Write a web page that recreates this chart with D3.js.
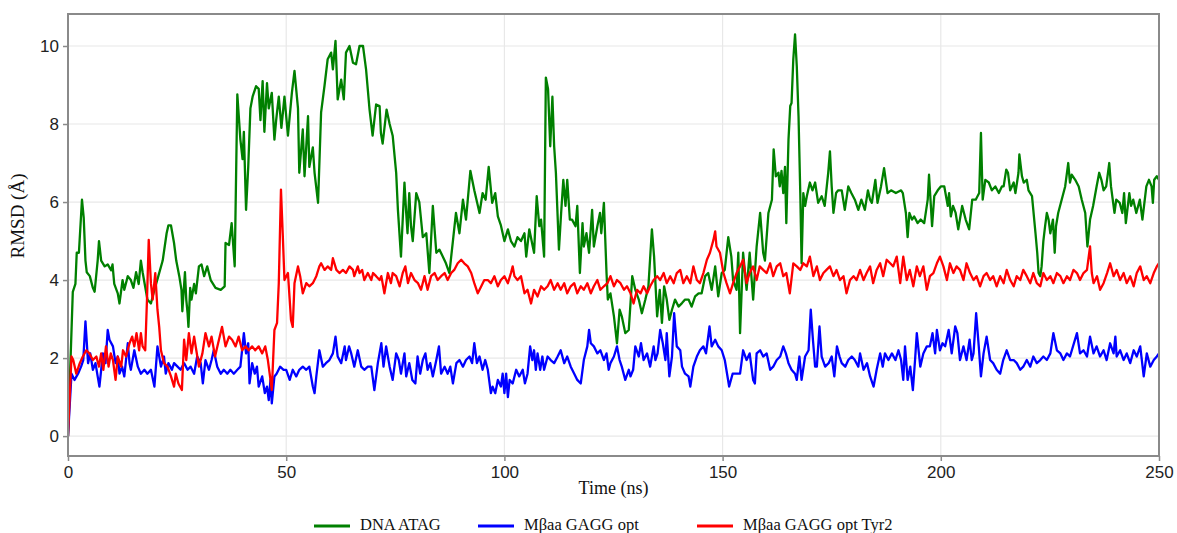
<!DOCTYPE html>
<html>
<head>
<meta charset="utf-8">
<script src="https://cdn.jsdelivr.net/npm/d3@7"></script>
<style>
  html, body { margin: 0; padding: 0; background: #fff; }
  svg { display: block; }
  .tick-label { font-family: "Liberation Sans", Arial, sans-serif; font-size: 17px; fill: #222; }
  .axis-title { font-family: "Liberation Serif", "Times New Roman", serif; font-size: 18px; fill: #111; }
  .legend-text { font-family: "Liberation Serif", "Times New Roman", serif; font-size: 16.5px; fill: #111; }
</style>
</head>
<body>
<svg id="chart" width="1177" height="533"></svg>
<script>
// RMSD trajectories (time in ns, RMSD in Å)
const dnaTime = [0,1.1,1.7,2.0,2.5,3.2,3.6,4.0,4.3,5.0,5.7,6.1,6.8,7.1,7.6,8.4,9.1,9.9,10.2,10.6,11.4,11.8,12.5,12.9,13.7,14.4,15.0,15.6,16.2,16.7,17.1,18.2,19.0,19.8,20.7,21.7,22.6,23.0,23.6,24.3,24.8,25.5,26.0,26.2,26.8,27.1,27.4,27.6,28.0,28.3,28.9,29.3,30.0,30.6,31.2,31.9,32.7,33.8,35.0,35.9,36.1,36.9,37.5,38.2,38.8,39.5,40.0,40.3,40.8,41.3,41.8,42.3,43.1,43.7,44.1,44.6,45.0,45.6,46.0,46.7,47.3,47.7,48.3,48.9,49.6,50.4,51.3,51.9,52.7,53.0,53.8,54.2,55.0,55.3,56.1,56.5,57.3,58.0,58.8,59.5,60.3,60.7,61.3,61.8,62.6,63.2,63.7,64.5,65.3,66.0,66.8,67.6,68.3,69.1,69.8,70.6,71.4,71.7,72.1,73.0,73.7,74.4,75.2,75.6,76.3,77.1,77.5,77.8,78.2,78.6,79.0,79.8,80.5,81.3,82.1,82.8,83.6,84.4,85.1,85.9,86.6,87.4,88.2,88.9,89.7,90.5,91.2,92.2,93.1,94.3,95.0,95.7,96.4,97.2,97.9,98.5,99.2,100.0,100.8,101.5,102.3,103.0,103.8,104.6,105.0,105.7,106.5,106.8,107.4,108.0,108.4,109.1,109.5,110.0,110.5,111.0,111.4,111.8,112.5,113.0,113.5,114.0,114.4,115.0,115.5,116.3,116.7,117.3,117.9,118.2,118.8,119.4,120.1,120.5,121.3,121.9,122.2,122.8,123.4,123.7,124.3,125.1,125.8,126.4,126.9,127.7,128.5,129.3,130.0,130.8,131.5,132.3,133.0,133.8,134.3,135.0,135.6,136.1,136.6,137.2,137.8,138.4,139.1,139.9,140.7,141.4,142.2,142.9,143.7,144.5,145.2,146.0,146.7,147.5,148.3,149.0,149.8,150.5,151.3,152.0,152.4,153.2,153.6,154.0,154.7,155.5,156.2,157.0,157.4,157.8,158.6,159.3,159.7,160.5,161.3,161.7,162.2,162.8,163.1,163.5,163.9,164.3,164.6,165.1,165.5,165.8,166.2,166.6,167.0,167.4,167.8,168.1,168.5,168.9,169.3,170.0,170.6,171.2,171.9,172.7,173.4,174.2,174.6,175.0,175.4,176.0,176.5,177.3,178.0,178.8,179.5,180.3,181.1,181.8,182.6,183.3,183.8,184.2,185.0,185.5,186.3,187.0,187.8,188.6,189.7,190.9,191.3,192.0,192.4,192.8,193.4,193.9,194.7,195.4,196.2,197.0,197.3,198.0,198.5,199.3,200.0,200.8,201.6,201.9,202.3,202.8,203.4,204.0,204.9,205.7,206.5,207.2,208.0,208.8,209.2,209.6,210.2,211.0,211.7,212.5,213.3,214.0,214.4,215.0,215.4,215.9,216.7,217.1,217.8,218.0,218.6,219.0,219.7,220.1,220.9,221.7,222.1,222.4,222.8,223.1,223.5,223.9,224.3,224.7,225.1,225.7,226.1,226.4,226.9,227.7,228.5,229.2,229.6,230.0,230.8,231.6,232.3,233.1,233.6,234.2,234.9,235.7,236.3,236.8,237.3,237.9,238.6,239.0,239.4,239.8,240.2,241.0,241.6,242.0,242.4,243.2,243.6,244.1,244.8,245.6,246.2,247.1,247.7,248.3,248.6,248.9,249.5,250];
const dnaRmsd = [0,3.7,3.9,4.7,4.7,6.06,5.6,4.5,4.2,4.1,3.8,3.7,4.5,5.0,4.5,4.35,4.4,4.25,4.4,3.9,3.66,3.4,4.0,3.75,4.1,4.0,3.8,4.2,3.9,4.5,4.2,3.5,3.4,3.75,4.1,4.5,5.2,5.4,5.4,4.95,4.5,4.1,3.75,3.2,4.2,3.5,3.15,2.8,3.8,3.5,3.9,3.66,4.35,4.4,4.1,4.35,4.0,3.8,3.75,3.84,4.95,4.9,5.46,4.35,8.76,7.6,7.1,7.8,5.8,6.9,8.4,8.7,8.97,8.9,8.1,9.1,7.8,9.05,8.4,8.8,7.6,8.1,8.7,7.9,8.7,7.7,8.8,9.36,8.4,6.75,7.86,6.66,8.2,6.9,7.4,6.75,5.98,8.3,9.0,9.66,9.83,9.4,10.13,8.63,9.14,8.63,9.83,10.0,9.57,9.53,10.0,10.0,9.4,8.37,7.7,8.5,8.46,7.77,7.5,8.37,8.0,7.7,6.75,5.8,4.6,6.5,5.72,5.2,6.23,5.38,5.0,6.23,6.0,5.1,5.2,4.18,5.9,4.7,4.78,4.6,4.43,4.18,5.0,5.72,5.2,6.06,5.55,6.8,6.3,5.72,6.23,6.06,6.9,5.98,6.23,5.63,5.4,5.0,5.3,5.0,4.86,5.1,5.0,5.2,4.6,5.3,4.86,4.7,6.15,5.38,5.55,4.6,9.19,8.9,7.43,8.7,7.43,6.75,4.78,5.72,6.57,5.9,6.57,5.55,5.55,5.38,5.9,4.18,5.46,4.86,5.2,4.7,5.8,4.86,5.38,5.72,5.2,5.98,4.18,3.5,3.66,3.07,2.38,3.24,3.07,2.64,2.72,4.1,3.75,3.5,3.15,3.5,3.84,5.3,4.6,3.07,3.75,2.9,3.84,3.5,2.98,3.24,3.5,3.32,3.41,3.5,3.5,3.32,3.58,3.66,3.66,4.1,4.18,3.75,4.35,3.58,4.18,4.26,5.1,4.6,4.0,3.75,4.7,2.64,4.7,3.75,4.7,3.5,4.18,4.86,5.72,4.7,4.5,5.72,6.06,7.35,6.66,6.75,6.4,6.8,6.23,6.9,5.46,7.6,8.46,8.54,9.66,10.3,9.48,8.2,6.23,4.43,6.23,5.9,6.15,6.5,6.3,6.5,5.98,6.15,5.9,6.75,7.3,6.4,5.72,6.23,6.3,6.3,5.8,6.4,6.23,6.06,5.8,6.06,5.8,6.3,6.06,5.98,6.57,5.98,6.4,6.87,6.23,6.3,6.23,6.3,6.23,5.72,5.1,5.72,5.55,5.63,5.46,5.55,5.46,6.06,6.7,5.38,6.15,6.3,6.4,6.4,5.9,6.23,5.63,5.9,5.72,5.3,5.9,5.55,5.3,6.06,6.06,6.23,7.77,6.06,6.57,6.5,6.3,6.4,6.23,6.4,6.4,6.83,6.75,6.3,6.5,6.23,6.75,7.22,6.66,6.5,6.57,6.3,6.15,5.2,4.7,4.18,4.1,4.35,5.0,5.38,5.72,5.55,5.2,5.55,4.7,5.38,5.72,6.06,6.4,7.0,6.5,6.7,6.57,6.4,6.06,5.72,4.86,5.55,5.9,6.4,6.75,6.57,6.3,6.4,7.0,6.4,6.06,5.72,6.06,5.98,5.72,6.23,5.46,6.23,5.9,6.06,5.72,6.06,5.55,6.4,6.57,6.4,5.98,6.57,6.66,6.57];

const gaggTime = [0,0.8,1.5,2.3,3.0,3.5,4.0,4.6,5.1,5.7,6.3,6.8,7.2,7.6,8.0,8.6,9.1,9.5,10.3,10.9,11.4,11.8,12.4,12.9,13.7,14.1,14.4,15.2,16.0,16.7,17.5,18.2,19.0,19.8,20.5,21.3,22.0,22.4,23.0,23.8,24.3,25.1,25.8,26.6,27.4,28.1,28.9,29.6,30.4,30.9,31.5,32.3,32.9,33.4,34.2,35.0,35.7,36.5,37.2,38.0,38.8,39.5,40.3,40.8,41.3,41.6,42.2,42.8,43.3,43.7,44.5,45.1,45.6,46.0,46.4,46.7,47.3,47.8,48.6,49.4,50.0,50.8,51.5,52.3,53.0,53.8,54.6,55.3,56.1,56.5,56.9,57.6,58.4,59.1,59.9,60.7,61.3,61.8,62.6,63.4,63.7,64.4,64.9,65.6,66.4,67.2,67.9,68.7,69.5,70.2,71.0,71.8,72.3,72.9,73.7,74.4,75.2,75.8,76.3,77.1,77.5,78.2,78.9,79.6,80.1,80.7,81.3,81.9,82.4,83.0,83.6,84.4,85.0,85.5,86.3,87.0,87.6,88.2,89.0,89.7,90.5,91.2,92.0,92.6,93.1,93.7,94.3,95.0,95.6,96.2,96.9,97.3,97.9,98.5,99.2,99.6,100.0,100.4,100.8,101.2,101.9,102.7,103.4,104.2,104.7,105.3,105.9,106.4,106.8,107.2,107.6,108.2,108.7,109.1,109.9,110.6,111.4,112.2,112.9,113.7,114.4,115.2,116.0,116.7,117.5,118.2,119.0,119.4,119.8,120.5,121.3,122.0,122.8,123.4,123.9,124.3,125.1,125.8,126.4,126.9,127.7,128.5,128.9,129.5,130.0,130.8,131.3,131.9,132.7,133.4,134.2,134.6,135.1,135.7,136.3,136.9,137.2,137.8,138.4,138.9,139.5,140.3,140.7,141.4,142.2,142.6,143.3,144.1,144.8,145.6,146.2,147.0,147.5,148.3,149.0,149.8,150.5,151.5,152.3,153.2,154.0,154.7,155.5,156.2,157.0,157.4,157.8,158.6,159.3,160.1,160.9,161.6,162.4,163.2,163.9,164.5,165.1,165.8,166.6,167.0,167.6,168.1,168.9,169.7,170.2,170.7,171.2,171.6,172.2,172.7,173.5,174.3,175.0,175.6,176.2,176.8,177.3,178.1,178.8,179.6,180.3,181.1,181.5,182.3,183.1,183.8,184.6,185.3,186.1,186.7,187.2,188.0,188.8,189.6,190.3,190.9,191.4,191.8,192.4,193.0,193.6,194.1,194.5,195.3,196.0,196.8,197.5,198.1,198.7,199.1,199.8,200.4,201.0,201.8,202.5,203.3,203.8,204.4,205.2,205.9,206.6,207.1,207.5,208.1,208.7,209.2,209.8,210.5,211.3,212.0,212.8,213.6,214.3,215.1,215.9,216.7,217.4,218.2,218.9,219.7,220.5,221.2,222.0,222.8,223.5,224.3,225.1,225.8,226.6,227.4,228.1,228.9,229.6,231.2,231.9,232.7,233.5,234.2,235.0,235.7,236.5,237.3,238.0,238.8,239.6,240.0,240.3,241.1,241.9,242.6,243.4,244.2,244.9,245.7,246.5,247.2,248.0,248.8,249.5,250];
const gaggRmsd = [0,1.6,1.44,1.6,1.78,1.95,2.94,1.87,2.12,1.7,1.87,1.53,1.27,1.7,2.12,1.87,2.72,2.47,2.3,1.87,2.04,1.6,1.78,1.53,2.38,1.87,1.7,2.2,1.78,1.6,1.7,1.6,1.7,1.27,2.3,1.78,2.04,1.6,1.87,1.7,1.87,1.78,1.7,1.87,1.7,1.78,1.6,2.04,1.87,1.35,1.95,1.7,1.95,2.2,1.78,1.6,1.7,1.6,1.7,1.6,1.7,1.78,2.64,2.12,2.38,1.35,1.87,1.6,1.78,1.27,1.53,1.1,1.27,0.92,1.44,0.84,1.53,1.6,1.78,1.7,1.7,1.44,1.7,1.53,1.7,1.78,1.7,1.78,1.27,1.1,1.53,2.2,1.78,1.87,1.95,2.12,2.55,2.04,1.87,2.3,1.95,2.3,2.12,1.78,2.2,1.78,1.7,1.78,1.78,1.18,1.87,2.38,1.78,2.3,1.78,1.44,2.12,1.95,1.6,2.12,1.53,1.87,1.44,1.35,2.04,1.6,1.95,2.12,1.7,1.87,1.53,1.95,2.3,1.6,1.78,1.6,1.78,1.35,1.87,1.95,1.78,1.95,2.04,1.87,2.38,1.87,2.04,1.7,1.95,1.7,1.1,1.27,1.1,1.44,1.27,1.6,1.1,1.6,1.0,1.44,1.35,1.7,1.53,1.7,1.35,1.6,2.3,1.95,2.2,1.7,2.12,1.7,2.04,1.7,2.04,1.95,1.87,2.04,2.2,1.87,2.04,1.78,1.6,1.44,1.35,1.95,2.3,2.72,2.38,2.3,2.12,2.2,1.95,2.12,1.7,1.87,2.04,2.3,1.95,1.78,1.44,1.7,1.53,1.7,2.3,2.04,2.38,1.95,2.12,1.78,2.3,1.95,2.12,2.72,2.38,1.95,2.64,1.53,2.04,3.15,2.3,2.2,1.78,1.6,1.53,1.27,1.78,2.04,2.2,2.3,2.12,2.81,2.3,2.47,2.3,2.2,1.95,1.27,1.6,1.6,1.6,2.2,1.95,2.12,1.44,1.35,2.12,2.2,2.04,2.12,1.7,1.78,1.95,2.04,2.3,2.12,1.87,1.7,1.6,1.44,2.04,1.44,2.04,2.2,3.24,2.47,1.78,1.78,2.81,2.04,1.78,1.87,2.04,1.53,2.3,2.04,1.87,1.78,1.95,2.04,1.95,1.78,2.12,1.7,1.87,1.53,1.27,1.7,2.12,1.78,2.12,1.95,2.12,1.95,2.2,1.95,1.44,2.3,1.44,1.78,1.18,1.95,2.64,1.78,2.12,2.3,2.3,2.64,2.12,2.72,2.2,2.38,2.3,2.72,2.12,2.81,2.64,1.95,2.3,1.95,2.47,1.95,2.12,3.15,2.3,1.53,2.12,2.55,1.95,1.87,1.7,1.6,1.95,2.2,1.95,1.95,1.87,1.7,1.78,1.95,1.78,2.04,1.87,1.95,2.04,1.95,2.12,2.64,2.2,2.12,1.95,2.12,2.04,2.64,2.12,2.2,2.04,2.55,2.12,2.3,2.04,2.2,1.95,2.38,2.12,2.55,2.04,2.2,1.95,2.12,1.87,2.2,2.04,2.3,1.53,2.12,1.78,1.95,2.04,2.12];

const tyr2Time = [0,0.8,1.2,1.9,2.7,3.4,4.2,4.9,5.7,6.5,7.1,7.6,8.1,8.7,9.3,9.8,10.3,10.9,11.4,12.2,12.6,13.3,14.1,14.7,15.2,15.7,16.3,16.7,17.1,17.7,18.1,18.5,19.0,19.4,20.0,20.5,20.9,21.3,22.0,22.8,23.6,24.3,24.7,25.3,26.1,26.6,27.1,27.7,28.3,28.9,29.4,30.0,30.8,31.5,32.3,32.9,33.7,34.4,35.3,36.1,36.9,37.6,38.4,39.1,39.9,40.7,41.4,42.2,42.9,43.7,44.5,45.2,45.8,46.4,46.7,47.3,47.9,48.3,48.8,49.2,49.6,50.4,50.8,51.1,51.5,51.9,52.7,53.2,53.8,54.6,55.3,56.1,56.9,57.6,58.0,58.8,59.5,60.3,60.7,61.5,62.2,63.0,63.7,64.5,65.3,65.6,66.4,66.8,67.4,67.9,68.7,69.5,69.9,70.6,71.4,71.8,72.5,73.3,74.0,74.4,75.2,76.0,76.7,77.3,77.9,78.6,79.4,80.2,80.9,81.7,82.4,83.2,84.0,84.7,85.5,86.3,87.0,87.8,88.5,89.3,90.1,90.8,91.6,92.4,93.1,93.9,94.7,95.4,96.2,96.9,97.7,98.5,99.2,100.0,100.8,101.5,101.9,102.3,103.0,103.8,104.6,105.3,106.1,106.8,107.6,108.4,109.1,109.9,110.6,111.4,112.2,112.9,113.7,114.4,115.2,116.0,116.7,117.5,118.2,119.0,119.8,120.5,121.3,122.0,122.8,123.6,124.3,125.1,125.8,126.6,127.4,128.1,128.9,129.6,130.4,131.2,131.9,132.7,133.4,134.2,135.0,135.7,136.5,137.2,138.0,138.8,139.5,140.3,141.0,141.8,142.6,143.3,144.1,144.8,145.6,146.4,147.1,147.9,148.3,148.6,149.4,150.2,150.9,151.7,152.4,153.2,154.0,154.7,155.5,156.2,157.0,157.8,158.5,159.3,160.1,160.9,161.6,162.4,163.2,163.9,164.6,165.4,166.2,167.0,167.8,168.5,169.3,170.0,170.8,171.6,172.3,173.1,173.8,174.6,175.4,176.1,176.9,177.7,178.4,179.2,180.0,180.7,181.5,182.3,183.0,183.8,184.5,185.3,186.1,186.8,187.6,188.4,189.1,189.9,190.7,191.4,192.2,192.9,193.7,194.5,195.2,196.0,196.8,197.5,198.3,199.1,199.8,200.6,201.4,202.1,202.9,203.6,204.4,205.2,205.9,206.7,207.5,208.2,209.0,209.8,210.5,211.3,212.0,212.8,213.6,214.4,215.1,215.9,216.7,217.4,218.2,218.9,219.7,220.5,221.2,222.0,222.8,223.5,224.3,225.1,225.8,226.6,227.4,228.1,228.9,229.6,230.4,231.2,231.9,232.7,233.5,234.2,234.6,235.0,235.8,236.5,237.3,238.1,238.8,239.6,240.3,241.1,241.9,242.6,243.4,244.2,244.9,245.7,246.5,247.2,248.0,248.8,249.5,250];
const tyr2Rmsd = [0,2.04,1.95,1.6,1.87,2.04,2.2,2.12,1.95,2.04,1.78,2.12,1.7,2.3,1.78,2.12,1.95,1.44,2.04,1.78,2.2,2.04,2.38,2.55,2.3,2.64,2.2,2.64,2.3,2.2,3.5,5.03,3.92,3.5,4.18,3.24,2.8,2.2,1.87,1.78,1.53,1.27,1.6,1.35,1.18,2.47,1.95,2.64,2.12,2.55,2.2,1.78,2.12,2.64,2.3,2.55,2.04,2.38,2.8,2.3,2.55,2.47,2.3,2.55,2.2,2.3,2.2,2.3,2.2,2.3,2.12,2.3,1.95,1.44,1.18,2.72,2.9,3.92,6.32,5.2,4.0,4.18,3.5,2.98,2.8,3.92,4.35,4.1,3.66,3.92,3.84,3.92,4.1,4.35,4.43,4.26,4.35,4.26,4.56,4.26,4.18,4.26,4.18,4.35,4.26,4.1,4.35,4.18,4.26,4.0,4.18,4.0,4.18,4.1,4.0,4.1,3.66,4.18,3.92,4.18,4.1,3.84,4.18,4.35,3.92,4.18,4.0,3.92,3.75,4.1,3.75,4.1,4.18,4.0,4.1,4.18,4.0,4.18,4.26,4.43,4.52,4.43,4.35,4.18,3.92,3.66,3.84,4.0,4.0,3.92,4.1,3.84,4.0,4.1,3.92,4.18,4.35,4.1,4.0,4.1,3.66,3.75,3.4,3.75,3.58,3.84,3.75,3.84,4.0,3.75,3.92,3.75,3.92,3.66,3.84,3.92,3.66,3.84,3.75,3.92,3.66,3.84,4.0,3.75,3.84,3.92,4.1,3.84,4.0,3.92,3.75,3.84,3.66,3.4,3.75,3.66,3.84,3.66,3.84,4.0,4.1,4.0,4.18,3.92,4.1,3.92,4.18,4.26,3.92,4.1,3.92,4.35,4.0,3.92,4.18,4.52,4.7,5.03,5.25,4.86,4.7,4.18,3.92,3.66,3.92,4.18,4.35,4.52,3.92,4.18,4.35,4.0,4.35,4.26,4.18,4.43,4.1,4.35,4.43,4.1,4.18,3.66,4.43,4.35,4.26,4.43,4.35,4.6,4.1,4.35,4.0,4.18,4.26,4.35,4.1,4.26,4.0,4.1,3.66,4.0,4.1,4.0,4.26,4.0,4.18,4.35,3.92,4.26,4.43,4.1,4.52,4.43,4.35,4.6,3.92,4.6,4.0,4.26,3.84,4.35,4.1,4.35,3.75,4.1,4.18,4.43,4.6,4.35,4.0,4.43,4.18,4.35,4.26,4.0,4.43,4.18,4.0,4.1,3.84,4.1,4.18,4.0,4.1,3.84,4.1,3.92,4.26,4.0,3.84,4.1,4.0,4.26,4.1,3.92,4.18,3.92,3.84,4.18,4.0,4.1,3.92,4.18,4.1,3.92,4.1,4.0,4.26,4.18,4.0,4.18,4.26,4.86,4.18,3.92,4.1,3.75,3.92,4.18,4.43,4.1,4.26,4.0,4.18,3.92,4.1,3.84,4.18,4.35,4.0,4.1,3.92,4.18,4.35,4.43];

const seriesNames = ["DNA ATAG", "M\u03B2aa GAGG opt", "M\u03B2aa GAGG opt Tyr2"];
const seriesColors = ["#008000", "#0000ff", "#ff0000"];
const xTicks = [0, 50, 100, 150, 200, 250];
const yTicks = [0, 2, 4, 6, 8, 10];

const series = [
  { name: seriesNames[0], color: seriesColors[0], t: dnaTime, v: dnaRmsd },
  { name: seriesNames[1], color: seriesColors[1], t: gaggTime, v: gaggRmsd },
  { name: seriesNames[2], color: seriesColors[2], t: tyr2Time, v: tyr2Rmsd }
];

const svg = d3.select("#chart");
const plot = { left: 68, right: 1159, top: 14, bottom: 456 };

const x = d3.scaleLinear().domain([0, 250]).range([plot.left, plot.right]);
const y = d3.scaleLinear().domain([-0.51, 10.82]).range([plot.bottom, plot.top]);

// grid
const grid = svg.append("g");
grid.selectAll("line.gx").data(xTicks).join("line")
  .attr("x1", d => x(d)).attr("x2", d => x(d))
  .attr("y1", plot.top).attr("y2", plot.bottom)
  .attr("stroke", "#e8e8e8").attr("stroke-width", 1.2);
grid.selectAll("line.gy").data(yTicks).join("line")
  .attr("x1", plot.left).attr("x2", plot.right)
  .attr("y1", d => y(d)).attr("y2", d => y(d))
  .attr("stroke", "#e8e8e8").attr("stroke-width", 1.2);

// series
svg.append("clipPath").attr("id", "plotclip").append("rect")
  .attr("x", plot.left).attr("y", plot.top)
  .attr("width", plot.right - plot.left).attr("height", plot.bottom - plot.top);

const lineGen = d3.line().x(d => x(d[0])).y(d => y(d[1]));
const lines = svg.append("g").attr("clip-path", "url(#plotclip)");
series.forEach(s => {
  lines.append("path")
    .datum(s.t.map((t, i) => [t, s.v[i]]))
    .attr("d", lineGen)
    .attr("fill", "none")
    .attr("stroke", s.color)
    .attr("stroke-width", 2.3)
    .attr("stroke-linejoin", "round");
});

// frame
svg.append("rect")
  .attr("x", plot.left).attr("y", plot.top)
  .attr("width", plot.right - plot.left).attr("height", plot.bottom - plot.top)
  .attr("fill", "none").attr("stroke", "#8a8a8a").attr("stroke-width", 2);

// axes
const xAxis = d3.axisBottom(x).tickValues(xTicks).tickSize(5).tickPadding(5).tickFormat(d3.format("d"));
const gx = svg.append("g").attr("transform", `translate(0,${plot.bottom})`).call(xAxis);
gx.select(".domain").remove();
gx.selectAll(".tick line").attr("stroke", "#8a8a8a").attr("stroke-width", 1.5);
gx.selectAll(".tick text").attr("class", "tick-label").attr("font-family", null).attr("font-size", null);

const yAxis = d3.axisLeft(y).tickValues(yTicks).tickSize(5).tickPadding(4).tickFormat(d3.format("d"));
const gy = svg.append("g").attr("transform", `translate(${plot.left},0)`).call(yAxis);
gy.select(".domain").remove();
gy.selectAll(".tick line").attr("stroke", "#8a8a8a").attr("stroke-width", 1.5);
gy.selectAll(".tick text").attr("class", "tick-label").attr("font-family", null).attr("font-size", null);

// axis titles
svg.append("text").attr("class", "axis-title")
  .attr("x", (plot.left + plot.right) / 2).attr("y", 494)
  .attr("text-anchor", "middle").text("Time (ns)");
svg.append("text").attr("class", "axis-title")
  .attr("transform", "translate(24,216) rotate(-90)")
  .attr("text-anchor", "middle").style("font-size", "19px").text("RMSD (\u00C5)");

// legend
const legendX = [314, 478, 697];
const legend = svg.append("g");
series.forEach((s, i) => {
  const g = legend.append("g").attr("transform", `translate(${legendX[i]},526)`);
  g.append("line").attr("x1", 0).attr("x2", 36).attr("y1", 0).attr("y2", 0)
    .attr("stroke", s.color).attr("stroke-width", 3);
  g.append("text").attr("class", "legend-text").attr("x", 46).attr("y", 4).text(s.name);
});
</script>
</body>
</html>
